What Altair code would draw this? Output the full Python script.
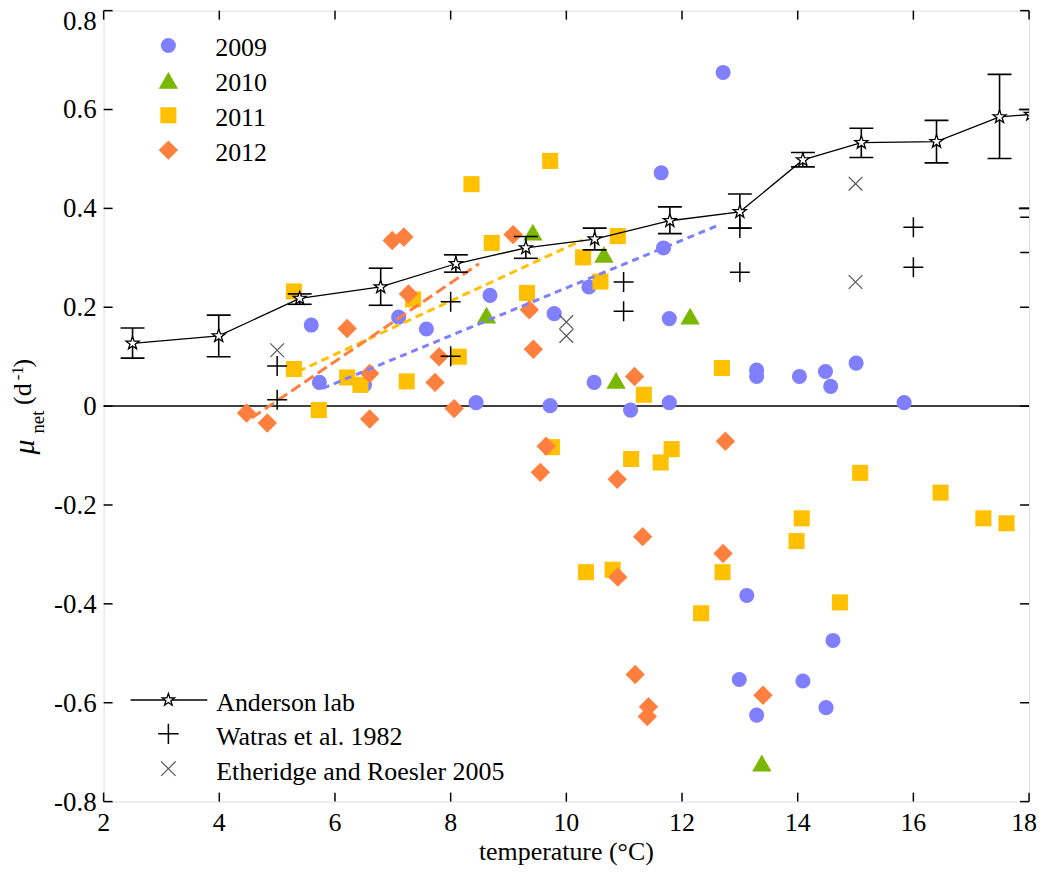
import altair as alt
import pandas as pd

# ---------------- data ----------------
x2009 = [8.68, 10.39, 11.68, 11.64, 12.71, 5.59, 7.10, 7.58, 9.79, 5.73, 6.51, 8.44, 9.72, 10.48, 11.11,
         11.78, 11.78, 13.29, 13.29, 14.03, 14.48, 14.57, 15.01, 15.84, 13.12, 14.61, 12.99, 14.09, 13.29, 14.49]
y2009 = [0.224, 0.241, 0.320, 0.472, 0.675, 0.164, 0.180, 0.156, 0.187, 0.048, 0.043, 0.007, 0.001, 0.048, -0.008,
         0.177, 0.007, 0.073, 0.060, 0.060, 0.070, 0.040, 0.087, 0.007, -0.383, -0.474, -0.553, -0.556, -0.625, -0.610]

x2010 = [9.42, 10.65, 8.62, 10.86, 12.14, 13.38]
y2010 = [0.352, 0.307, 0.184, 0.052, 0.182, -0.722]

x2011 = [5.29, 8.36, 9.72, 8.71, 10.29, 10.89, 10.59, 9.32, 7.35, 5.29, 6.21, 6.44, 7.24, 8.14, 5.72, 9.75,
         11.12, 11.34, 12.69, 11.82, 11.63, 15.08, 16.47, 17.21, 17.61, 14.07, 13.98, 12.70, 14.73, 12.33, 10.34, 10.80]
y2011 = [0.232, 0.449, 0.496, 0.330, 0.301, 0.344, 0.252, 0.229, 0.216, 0.075, 0.058, 0.043, 0.050, 0.100, -0.008, -0.083,
         -0.107, 0.023, 0.077, -0.087, -0.114, -0.135, -0.175, -0.227, -0.237, -0.227, -0.273, -0.336, -0.397, -0.419, -0.336, -0.331]

x2012 = [6.99, 7.19, 9.08, 7.27, 6.21, 9.36, 9.43, 7.80, 6.60, 7.73, 8.06, 4.47, 4.83, 6.60, 9.65, 9.55,
         10.88, 11.18, 12.75, 11.32, 12.71, 10.89, 11.19, 11.42, 11.40, 13.40]
y2012 = [0.335, 0.342, 0.347, 0.227, 0.157, 0.195, 0.115, 0.100, 0.066, 0.048, -0.005, -0.014, -0.034, -0.026, -0.081, -0.134,
         -0.148, 0.060, -0.071, -0.264, -0.298, -0.346, -0.543, -0.608, -0.628, -0.585]

# Anderson lab means with error bars
and_x = [2.5, 3.99, 5.39, 6.79, 8.09, 9.30, 10.49, 11.79, 13.00, 14.09, 15.10, 16.40, 17.49, 18.03]
and_y = [0.127, 0.142, 0.218, 0.241, 0.288, 0.320, 0.338, 0.375, 0.393, 0.498, 0.533, 0.535, 0.585, 0.590]
and_hi = [0.158, 0.184, 0.227, 0.279, 0.306, 0.343, 0.360, 0.403, 0.429, 0.513, 0.562, 0.578, 0.671, 0.600]
and_lo = [0.097, 0.100, 0.206, 0.204, 0.271, 0.299, 0.316, 0.349, 0.360, 0.484, 0.503, 0.492, 0.501, 0.400]

# Watras et al. 1982
wat_x = [5.0, 5.0, 8.0, 8.0, 10.99, 10.99, 13.0, 13.0, 16.0, 16.0, 18.02, 18.02]
wat_y = [0.081, 0.013, 0.211, 0.101, 0.251, 0.192, 0.360, 0.271, 0.362, 0.281, 0.382, 0.311]

# Etheridge and Roesler 2005
eth_x = [5.0, 10.0, 10.0, 15.0, 15.0]
eth_y = [0.113, 0.170, 0.142, 0.450, 0.251]

# dashed fits (endpoints)
fit2012_x = [4.56, 8.49]
fit2012_y = [-0.024, 0.288]
fit2011_x = [5.36, 10.28]
fit2011_y = [0.070, 0.336]
fit2009_x = [5.79, 12.61]
fit2009_y = [0.036, 0.365]

x_ticks = [2, 4, 6, 8, 10, 12, 14, 16, 18]
x_tick_labels = ["2", "4", "6", "8", "10", "12", "14", "16", "18"]
y_ticks = [-0.8, -0.6, -0.4, -0.2, 0, 0.2, 0.4, 0.6, 0.8]
y_tick_labels = ["-0.8", "-0.6", "-0.4", "-0.2", "0", "0.2", "0.4", "0.6", "0.8"]

# ---------------- styling ----------------
W, H = 929, 794
FONT = "Liberation Serif"
C09, C10, C11, C12 = "#7F7FFF", "#7AB800", "#FFC000", "#FF7F3F"
STAR = ("M0,-1L0.235,-0.324L0.951,-0.309L0.380,0.124L0.588,0.809L0,0.4"
        "L-0.588,0.809L-0.380,0.124L-0.951,-0.309L-0.235,-0.324Z")
PLUS = "M-1,0L1,0M0,-1L0,1"
XMARK = "M-1,-1L1,1M-1,1L1,-1"

xs = alt.Scale(domain=[2, 18], nice=False, zero=False)
ys = alt.Scale(domain=[-0.8, 0.8], nice=False, zero=False)


def X(f):
    return alt.X(f, type="quantitative", scale=xs, axis=None)


def Y(f):
    return alt.Y(f, type="quantitative", scale=ys, axis=None)


def df(xv, yv):
    return pd.DataFrame({"x": xv, "y": yv})


one = alt.Data(values=[{"a": 1}])

layers = []

# zero line
layers.append(
    alt.Chart(pd.DataFrame({"x": [2, 18], "y": [0, 0]})).mark_line(color="black", strokeWidth=1.5)
    .encode(x=X("x"), y=Y("y"))
)


# scatter
def scatter(xv, yv, shape, color, size):
    return alt.Chart(df(xv, yv)).mark_point(shape=shape, filled=True, color=color, size=size,
                                             opacity=1, strokeWidth=0).encode(x=X("x"), y=Y("y"))


layers.append(scatter(x2009, y2009, "circle", C09, 230))
layers.append(scatter(x2010, y2010, "triangle-up", C10, 380))
layers.append(scatter(x2011, y2011, "square", C11, 260))
layers.append(scatter(x2012, y2012, "diamond", C12, 380))

# dashed fits
for fx, fy, col, dash in [(fit2009_x, fit2009_y, C09, [7, 5]),
                          (fit2011_x, fit2011_y, C11, [8, 5]),
                          (fit2012_x, fit2012_y, C12, [11, 5])]:
    layers.append(alt.Chart(df(fx, fy)).mark_line(color=col, strokeWidth=3, strokeDash=dash)
                  .encode(x=X("x"), y=Y("y")))

# Anderson lab
and_df = pd.DataFrame({"x": and_x, "y": and_y, "hi": and_hi, "lo": and_lo})
layers.append(alt.Chart(and_df).mark_line(color="black", strokeWidth=1.3, clip=True)
              .encode(x=X("x"), y=Y("y")))
layers.append(alt.Chart(and_df).mark_rule(color="black", strokeWidth=1.6, clip=True)
              .encode(x=X("x"), y=Y("lo"), y2="hi"))
layers.append(alt.Chart(and_df).mark_tick(orient="horizontal", size=24, thickness=1.6, color="black",
                                         opacity=1, clip=True)
              .encode(x=X("x"), y=Y("lo")))
layers.append(alt.Chart(and_df).mark_tick(orient="horizontal", size=24, thickness=1.6, color="black",
                                         opacity=1, clip=True)
              .encode(x=X("x"), y=Y("hi")))
layers.append(alt.Chart(and_df).mark_point(shape=STAR, filled=True, fill="white", stroke="black",
                                          strokeWidth=1.3, size=190, opacity=1, clip=True)
              .encode(x=X("x"), y=Y("y")))

# Watras and Etheridge
layers.append(alt.Chart(df(wat_x, wat_y)).mark_point(shape=PLUS, filled=False, stroke="black",
                                                    strokeWidth=1.5, size=400, opacity=1, clip=True)
              .encode(x=X("x"), y=Y("y")))
layers.append(alt.Chart(df(eth_x, eth_y)).mark_point(shape=XMARK, filled=False, stroke="#555555",
                                                    strokeWidth=1.2, size=190, opacity=1, clip=True)
              .encode(x=X("x"), y=Y("y")))

# inward ticks on all four sides
tx = pd.DataFrame({"t": x_ticks, "lab": x_tick_labels})
ty = pd.DataFrame({"t": y_ticks, "lab": y_tick_labels})
for y0, y1 in [(H, H - 9), (0, 9)]:
    layers.append(alt.Chart(tx).mark_rule(color="black", strokeWidth=1.5)
                  .encode(x=X("t"), y=alt.value(y0), y2=alt.value(y1)))
for x0, x1 in [(0, 9), (W, W - 9)]:
    layers.append(alt.Chart(ty).mark_rule(color="black", strokeWidth=1.5)
                  .encode(y=Y("t"), x=alt.value(x0), x2=alt.value(x1)))

# tick labels (the two edge labels are nudged inward so they stay inside the page)
layers.append(alt.Chart(tx.iloc[:-1]).mark_text(font=FONT, fontSize=26, color="black", align="center",
                                               baseline="alphabetic")
              .encode(x=X("t"), y=alt.value(H + 30), text="lab:N"))
layers.append(alt.Chart(tx.iloc[-1:]).mark_text(font=FONT, fontSize=26, color="black", align="center",
                                               baseline="alphabetic", dx=-5)
              .encode(x=X("t"), y=alt.value(H + 30), text="lab:N"))
layers.append(alt.Chart(ty.iloc[:-1]).mark_text(font=FONT, fontSize=27, color="black", align="right",
                                               baseline="alphabetic", dy=9)
              .encode(y=Y("t"), x=alt.value(-7), text="lab:N"))
layers.append(alt.Chart(ty.iloc[-1:]).mark_text(font=FONT, fontSize=27, color="black", align="right",
                                               baseline="alphabetic", dy=19)
              .encode(y=Y("t"), x=alt.value(-7), text="lab:N"))


# ---------------- legends / titles (manual) ----------------
def sym(px, py, **kw):
    return alt.Chart(one).mark_point(opacity=1, **kw).encode(x=alt.value(px), y=alt.value(py))


def txt(px, py, s, size=26, **kw):
    return alt.Chart(one).mark_text(text=s, font=FONT, fontSize=size, color="black", **kw).encode(
        x=alt.value(px), y=alt.value(py))


# x-axis title
layers.append(txt(W / 2, H + 59, "temperature (°C)", size=26, align="center", baseline="alphabetic"))

year_leg = [("2009", "circle", C09, 230, 35), ("2010", "triangle-up", C10, 380, 70),
            ("2011", "square", C11, 260, 105), ("2012", "diamond", C12, 380, 140)]
for lab, shp, col, sz, py in year_leg:
    layers.append(sym(65, py, shape=shp, filled=True, color=col, size=sz, strokeWidth=0))
    layers.append(txt(112, py + 11, lab, align="left", baseline="alphabetic"))

# bottom legend
layers.append(alt.Chart(one).mark_rule(color="black", strokeWidth=1.3)
              .encode(x=alt.value(27), x2=alt.value(104), y=alt.value(692)))
layers.append(sym(65, 692, shape=STAR, filled=True, fill="white", stroke="black", strokeWidth=1.3, size=170))
layers.append(txt(113, 703, "Anderson lab", align="left", baseline="alphabetic"))
layers.append(sym(65, 726, shape=PLUS, filled=False, stroke="black", strokeWidth=1.5, size=420))
layers.append(txt(113, 737, "Watras et al. 1982", align="left", baseline="alphabetic"))
layers.append(sym(65, 761, shape=XMARK, filled=False, stroke="#555555", strokeWidth=1.2, size=210))
layers.append(txt(113, 772, "Etheridge and Roesler 2005", align="left", baseline="alphabetic"))

# y-axis title: mu_net (d^-1)
layers.append(txt(-79, 438, "μ", size=30, angle=270, align="center", baseline="middle", fontStyle="italic"))
layers.append(txt(-66, 413, "net", size=19, angle=270, align="center", baseline="middle"))
layers.append(txt(-81, 385, "(d", size=26, angle=270, align="center", baseline="middle"))
layers.append(txt(-86, 364, "-1", size=17, angle=270, align="center", baseline="middle"))
layers.append(txt(-81, 354, ")", size=26, angle=270, align="center", baseline="middle"))

chart = alt.layer(*layers).properties(
    width=W, height=H,
    autosize=alt.AutoSizeParams(type="none"),
    padding={"left": 96, "top": 1, "right": 13, "bottom": 64},
).configure_view(stroke="#222222", strokeWidth=1.6).configure(background="white")

chart.save("out.html", embed_options={"renderer": "svg", "actions": False})
